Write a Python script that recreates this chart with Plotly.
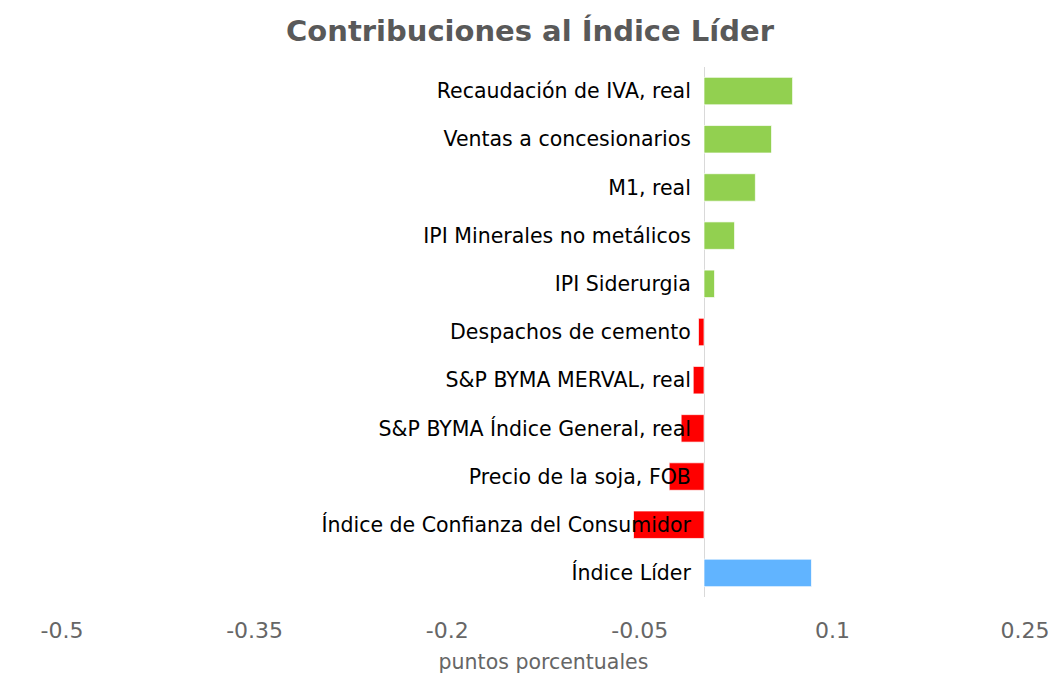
import plotly.graph_objects as go

categories = [
    "Recaudación de IVA, real",
    "Ventas a concesionarios",
    "M1, real",
    "IPI Minerales no metálicos",
    "IPI Siderurgia",
    "Despachos de cemento",
    "S&P BYMA MERVAL, real",
    "S&P BYMA Índice General, real",
    "Precio de la soja, FOB",
    "Índice de Confianza del Consumidor",
    "Índice Líder",
]
values = [0.069, 0.0526, 0.040, 0.0238, 0.0082, -0.0043, -0.0084, -0.0178, -0.0271, -0.0549, 0.0837]
x_ticks = [-0.5, -0.35, -0.2, -0.05, 0.1, 0.25]
x_tick_labels = ["-0.5", "-0.35", "-0.2", "-0.05", "0.1", "0.25"]

GREEN, RED, BLUE = "#92D050", "#FF0000", "#61B4FF"
colors = []
for c, v in zip(categories, values):
    if c == "Índice Líder":
        colors.append(BLUE)
    else:
        colors.append(GREEN if v >= 0 else RED)

FONT = "DejaVu Sans"
xmin, xmax = -0.5, 0.25

fig = go.Figure(
    go.Bar(
        x=values,
        y=categories,
        orientation="h",
        marker=dict(color=colors, line=dict(color="rgba(255,255,255,0.7)", width=1)),
        width=0.57,
    )
)

fig.update_layout(
    width=1060,
    height=692,
    paper_bgcolor="white",
    plot_bgcolor="white",
    margin=dict(l=62, r=35, t=67, b=95, autoexpand=False),
    showlegend=False,
    title=dict(
        text="<b>Contribuciones al Índice Líder</b>",
        x=0.5,
        xanchor="center",
        y=0.955,
        yanchor="middle",
        font=dict(family=FONT, size=29, color="#595959"),
    ),
    xaxis=dict(
        range=[xmin, xmax],
        tickvals=x_ticks,
        ticktext=x_tick_labels,
        showgrid=False,
        zeroline=True,
        zerolinecolor="#D9D9D9",
        zerolinewidth=1,
        showline=False,
        ticks="outside",
        ticklen=14,
        tickcolor="rgba(0,0,0,0)",
        automargin=False,
        tickfont=dict(family=FONT, size=22, color="#666666"),
        title=dict(text="puntos porcentuales", standoff=12,
                   font=dict(family=FONT, size=20.5, color="#666666")),
    ),
    yaxis=dict(
        autorange="reversed",
        anchor="free",
        position=(0 - xmin) / (xmax - xmin),
        side="left",
        showgrid=False,
        zeroline=False,
        showline=False,
        ticks="outside",
        ticklen=9,
        tickcolor="rgba(0,0,0,0)",
        tickfont=dict(family=FONT, size=20.5, color="#000000"),
        automargin=False,
        layer="above traces",
    ),
)

fig.write_html("out.html")
